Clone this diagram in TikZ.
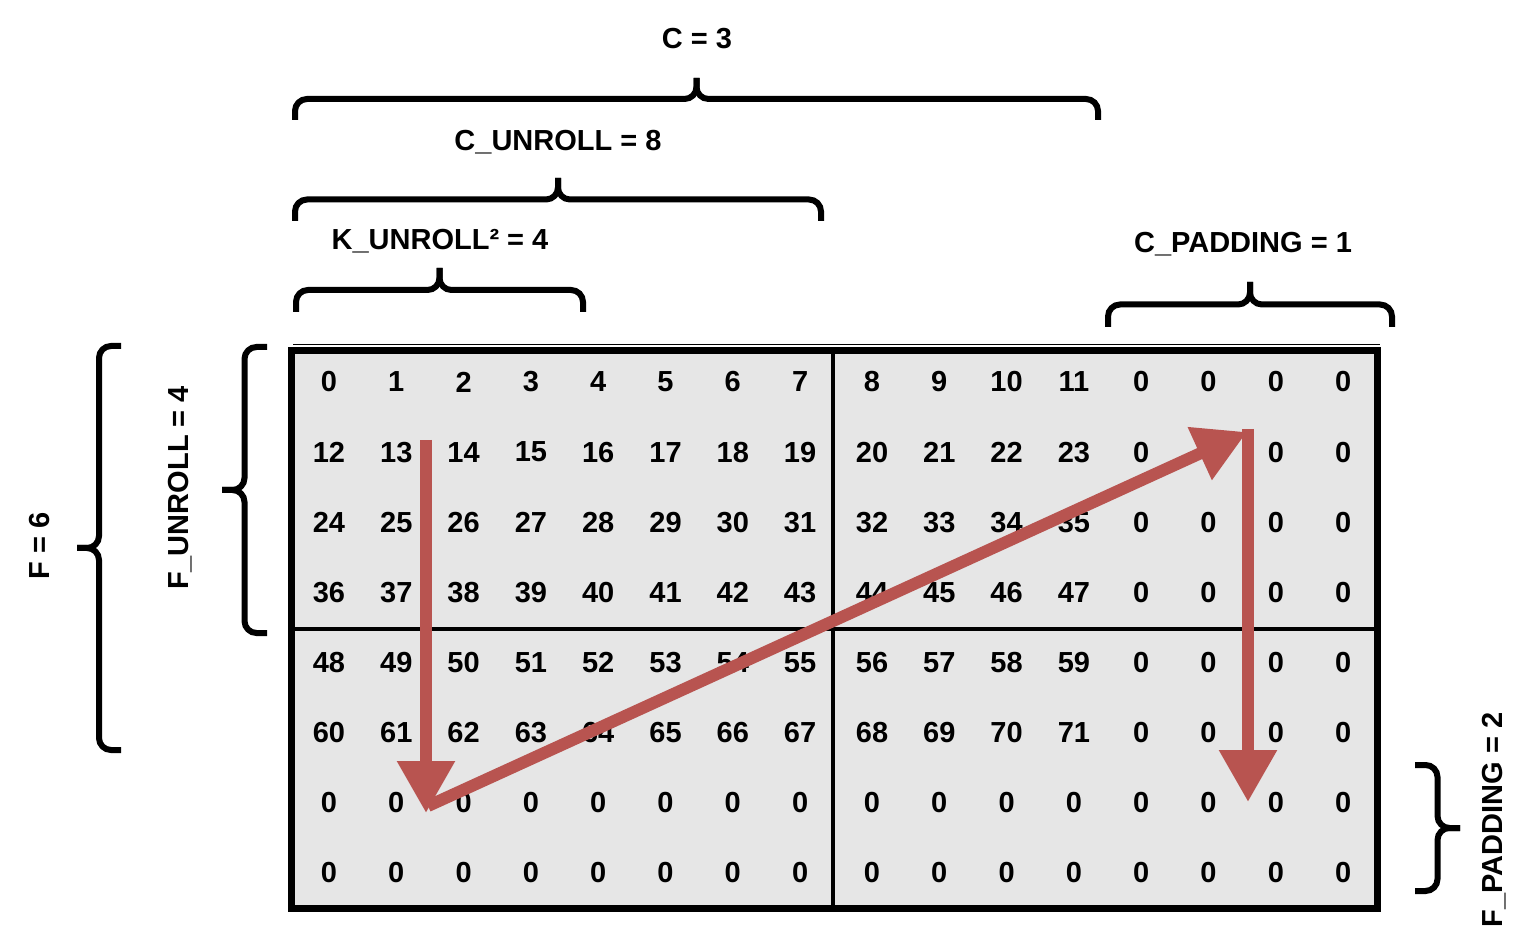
\documentclass[tikz,border=0pt]{standalone}
\usepackage{fontspec}
\setmainfont{Liberation Sans}
\usetikzlibrary{arrows.meta}

\definecolor{cellgray}{HTML}{E6E6E6}
\definecolor{walkred}{HTML}{B85450}

\tikzset{
  cell/.style={font=\bfseries\fontsize{14.5}{17}\selectfont, inner sep=0pt},
  lbl/.style={font=\bfseries\fontsize{14.5}{17}\selectfont, inner sep=0pt},
  bracket/.style={line width=3pt, rounded corners=6pt},
  walk/.style={walkred, line width=6pt, -{Triangle[width=27.5pt,length=26pt]}},
}

% brace over a span: #1,#2 ends (x), #3 end level (y), #4 tip level (y)
\newcommand{\topbrace}[4]{%
  \draw[bracket] (#1,#3) -- (#1,{(#3+#4)/2}) -- ({(#1+#2)/2},{(#3+#4)/2}) -- ({(#1+#2)/2},#4);
  \draw[bracket] (#2,#3) -- (#2,{(#3+#4)/2}) -- ({(#1+#2)/2},{(#3+#4)/2}) -- ({(#1+#2)/2},#4);
}
% brace beside a span: #1,#2 ends (y), #3 end level (x), #4 tip level (x)
\newcommand{\sidebrace}[4]{%
  \draw[bracket] (#3,#1) -- ({(#3+#4)/2},#1) -- ({(#3+#4)/2},{(#1+#2)/2}) -- (#4,{(#1+#2)/2});
  \draw[bracket] (#3,#2) -- ({(#3+#4)/2},#2) -- ({(#3+#4)/2},{(#1+#2)/2}) -- (#4,{(#1+#2)/2});
}

\begin{document}
\begin{tikzpicture}[x=0.5pt,y=-0.5pt]
    \useasboundingbox (0,0) rectangle (1536,951);

    % Grid
    \fill[cellgray] (291,351) rectangle (1377,908);
    \draw[line width=0.5pt] (293,344.5) -- (1380,344.5);
    \draw[line width=2pt] (833,351) -- (833,908);
    \draw[line width=2pt] (291,629) -- (1377,629);
    \draw[line width=3.5pt] (291,351) rectangle (1377,908);

    % Values
    \foreach \r in {0,...,7}{
        \foreach \c in {0,...,15}{
            \pgfmathtruncatemacro{\v}{and(\r<6,\c<12)*(\r*12+\c)}
            \pgfmathsetmacro{\x}{329+67.3*\c+4.6*(\c>7)}
            \node[cell] (n-\r-\c) at (\x,{382+70.1*\r}) {\v};
        }
    }

    % Top braces
    \node[lbl] (c) at (697,39) {C = 3};
    \topbrace{295}{1098}{120}{78}
    \node[lbl] (cunroll) at (558,142) {C\_UNROLL = 8};
    \topbrace{295}{821}{221}{178}
    \node[lbl] (kunroll) at (440,241) {K\_UNROLL² = 4};
    \topbrace{296}{583}{312}{268}
    \node[lbl] (cpadding) at (1243,244) {C\_PADDING = 1};
    \topbrace{1108}{1392}{327}{282}

    % Side braces
    \node[lbl, rotate=90] (f) at (40,546) {F = 6};
    \sidebrace{346}{750}{121}{77}
    \node[lbl, rotate=90] (funroll) at (180,488) {F\_UNROLL = 4};
    \sidebrace{347}{633}{267}{222}
    \node[lbl, rotate=90] (fpadding) at (1494,820) {F\_PADDING = 2};
    \sidebrace{765}{891}{1415}{1460}

    % Walk
    \coordinate (w1) at (426,440);
    \coordinate (w2) at (426,813);
    \coordinate (w3) at (428,806);
    \coordinate (w4) at (1247,432);
    \coordinate (w5) at (1248,429);
    \coordinate (w6) at (1248,802);
    \draw[walk] (w1) -- (w2);
    \draw[walk] (w3) -- (w4);
    \draw[walk] (w5) -- (w6);
\end{tikzpicture}
\end{document}
